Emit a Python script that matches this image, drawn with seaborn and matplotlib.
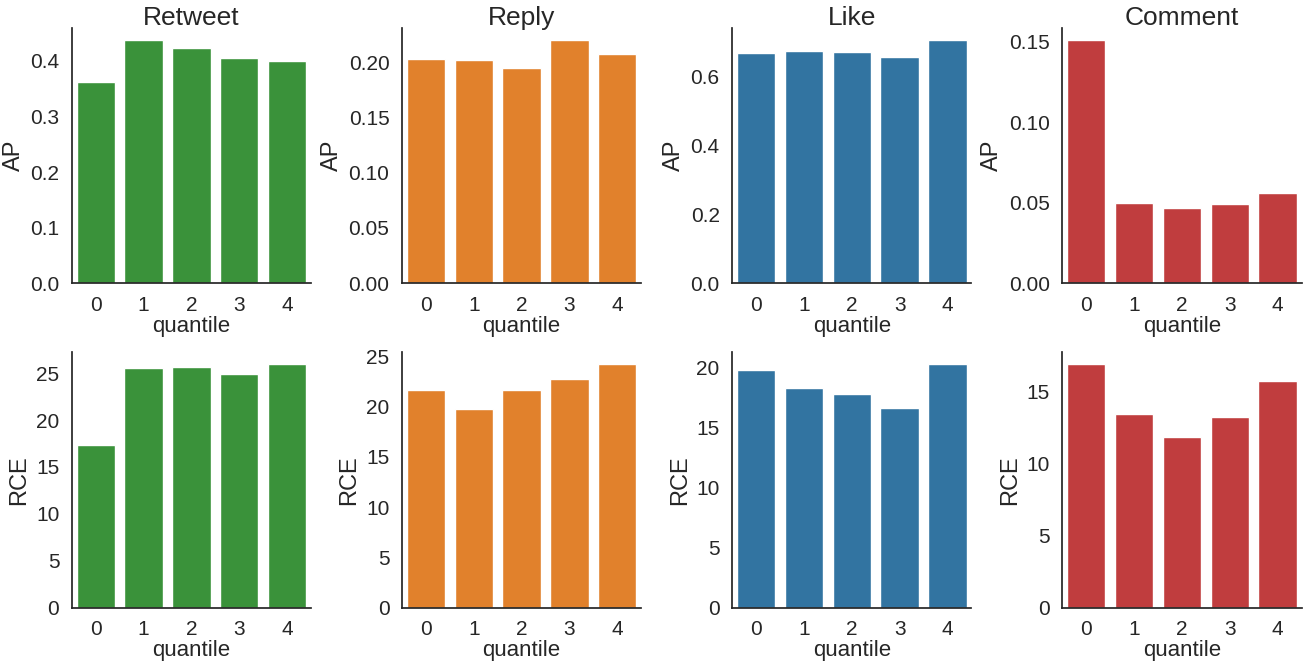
import numpy as np
import pandas as pd
import matplotlib
matplotlib.use("Agg")
import matplotlib.pyplot as plt
from matplotlib.ticker import MultipleLocator
import seaborn as sns

# quantile buckets
quantiles = [0, 1, 2, 3, 4]
targets = ["Retweet", "Reply", "Like", "Comment"]
colors = ["tab:green", "tab:orange", "tab:blue", "tab:red"]

# AP per quantile
ap_retweet = [0.362, 0.4375, 0.424, 0.405, 0.399]
ap_reply = [0.2025, 0.202, 0.195, 0.220, 0.2075]
ap_like = [0.667, 0.672, 0.671, 0.656, 0.705]
ap_comment = [0.1512, 0.0500, 0.0467, 0.0492, 0.0558]

# RCE per quantile
rce_retweet = [17.36, 25.56, 25.63, 24.96, 25.95]
rce_reply = [21.6, 19.8, 21.65, 22.7, 24.2]
rce_like = [19.83, 18.29, 17.82, 16.67, 20.28]
rce_comment = [16.86, 13.41, 11.80, 13.23, 15.72]

ap_vals = [ap_retweet, ap_reply, ap_like, ap_comment]
rce_vals = [rce_retweet, rce_reply, rce_like, rce_comment]

sns.set_theme(style="white")
plt.rcParams['font.family'] = ['Liberation Sans', 'DejaVu Sans']

fig, axes = plt.subplots(2, 4, figsize=(13.04, 6.64), dpi=100)

for i, (name, color) in enumerate(zip(targets, colors)):
    for row, (metric, vals) in enumerate([("AP", ap_vals[i]), ("RCE", rce_vals[i])]):
        ax = axes[row, i]
        df = pd.DataFrame({"quantile": quantiles, metric: vals})
        sns.barplot(data=df, x="quantile", y=metric, color=color, ax=ax)
        ax.set_xlabel("quantile", fontsize=16, labelpad=1)
        ax.set_ylabel(metric, fontsize=17, labelpad=4)
        ax.tick_params(labelsize=15, pad=3)
        if metric == "RCE":
            ax.yaxis.set_major_locator(MultipleLocator(5))
        if row == 0:
            ax.set_title(name, fontsize=19, pad=2)

sns.despine()
plt.tight_layout(pad=0.15, w_pad=0.6, h_pad=0.5)
fig.subplots_adjust(top=0.958, bottom=0.085, hspace=0.27)
plt.savefig("out.png", dpi=100)
